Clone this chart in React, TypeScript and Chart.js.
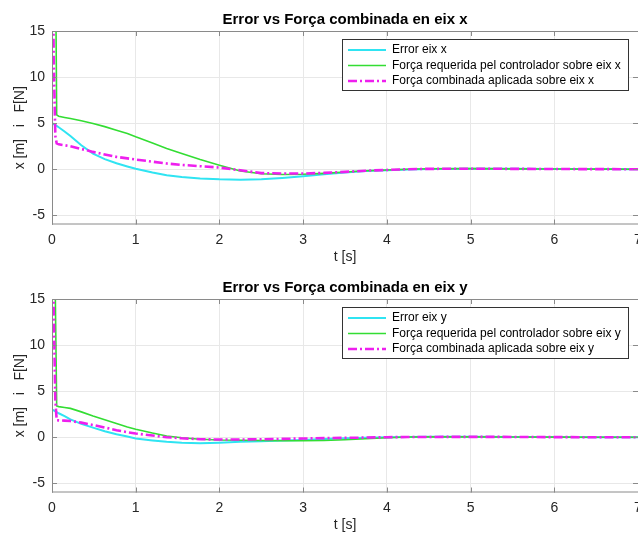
import React, { useEffect, useRef } from 'react';
import { Chart, registerables } from 'chart.js';

Chart.register(...registerables);

// ---------- data ----------
const timeS = [0, 0.02, 0.04, 0.056, 0.08, 0.15, 0.22, 0.35, 0.49, 0.63, 0.77, 0.9, 1.0, 1.2, 1.37, 1.55, 1.77, 2.0, 2.25, 2.5, 2.75, 3.0, 3.25, 3.5, 3.75, 4.0, 4.25, 4.5, 5.0, 5.5, 6.0, 6.5, 7.0];

const errorX = [5.0, 4.9, 4.8, 4.7, 4.55, 4.1, 3.6, 2.6, 1.7, 1.1, 0.65, 0.3, 0.05, -0.35, -0.65, -0.85, -1.0, -1.1, -1.13, -1.1, -0.95, -0.76, -0.56, -0.36, -0.2, -0.1, -0.02, 0.03, 0.05, 0.04, 0.02, 0.01, 0];
const forceReqX = [60, 45, 25, 5.9, 5.75, 5.62, 5.5, 5.25, 4.96, 4.62, 4.24, 3.88, 3.52, 2.85, 2.25, 1.7, 1.05, 0.43, -0.2, -0.5, -0.58, -0.55, -0.45, -0.3, -0.17, -0.08, 0.0, 0.05, 0.06, 0.04, 0.02, 0.01, 0];
const forceCombX = [40, 12, 3.6, 2.8, 2.7, 2.6, 2.5, 2.2, 1.88, 1.6, 1.34, 1.18, 1.05, 0.82, 0.62, 0.47, 0.33, 0.18, -0.12, -0.42, -0.47, -0.47, -0.4, -0.29, -0.16, -0.08, 0.0, 0.04, 0.05, 0.04, 0.02, 0.01, 0];

const errorY = [3.0, 2.9, 2.8, 2.72, 2.6, 2.3, 1.94, 1.45, 1.04, 0.65, 0.32, 0.08, -0.14, -0.35, -0.5, -0.6, -0.65, -0.6, -0.5, -0.43, -0.36, -0.29, -0.2, -0.12, -0.05, 0, 0.03, 0.05, 0.05, 0.03, 0.01, 0, 0];
const forceReqY = [60, 40, 15, 3.4, 3.32, 3.23, 3.13, 2.75, 2.3, 1.9, 1.48, 1.1, 0.86, 0.45, 0.14, -0.05, -0.22, -0.3, -0.33, -0.36, -0.38, -0.38, -0.35, -0.28, -0.17, -0.05, 0.02, 0.04, 0.04, 0.03, 0.01, 0, 0];
const forceCombY = [40, 14, 4, 1.85, 1.83, 1.8, 1.76, 1.58, 1.33, 1.05, 0.76, 0.55, 0.4, 0.18, 0.0, -0.12, -0.22, -0.25, -0.25, -0.22, -0.18, -0.14, -0.1, -0.07, -0.04, 0, 0.02, 0.03, 0.04, 0.03, 0.01, 0, 0];

const xTicks = [0, 1, 2, 3, 4, 5, 6, 7];
const yTicks = [-5, 0, 5, 10, 15];

const titleX = 'Error vs Força combinada en eix x';
const titleY = 'Error vs Força combinada en eix y';
const labelsX = ['Error eix x', 'Força requerida pel controlador sobre eix x', 'Força combinada aplicada sobre eix x'];
const labelsY = ['Error eix y', 'Força requerida pel controlador sobre eix y', 'Força combinada aplicada sobre eix y'];
const xAxisTitle = 't [s]';
const yAxisTitle = 'x [m]   i   F[N]';

// ---------- styles ----------
const FONT = '"Liberation Sans", Arial, Helvetica, sans-serif';
const COLORS = ['#2fe4f2', '#33dd33', '#ee1fee'];
const WIDTHS = [2, 1.6, 2.6];
const DASHES: number[][] = [[], [], [9, 3, 2, 3]];
const AXIS_COLOR = '#8a8a8a';
const TICK_COLOR = '#262626';
const GRID_COLOR = '#e8e8e8';

const framePlugin = {
  id: 'matlabFrame',
  afterDatasetsDraw(chart: any) {
    const { ctx, chartArea, scales } = chart;
    const { left, right, top, bottom } = chartArea;
    ctx.save();
    ctx.strokeStyle = AXIS_COLOR;
    ctx.lineWidth = 1;
    ctx.beginPath();
    ctx.moveTo(left, top + 0.5);
    ctx.lineTo(right, top + 0.5);
    ctx.moveTo(right + 0.5, top);
    ctx.lineTo(right + 0.5, bottom);
    ctx.moveTo(left + 0.5, top);
    ctx.lineTo(left + 0.5, bottom);
    ctx.moveTo(left, bottom - 0.5);
    ctx.lineTo(right, bottom - 0.5);
    const tl = 5;
    for (const v of xTicks) {
      const x = Math.round(scales.x.getPixelForValue(v)) + 0.5;
      ctx.moveTo(x, top);
      ctx.lineTo(x, top + tl);
      ctx.moveTo(x, bottom);
      ctx.lineTo(x, bottom - tl);
    }
    for (const v of yTicks) {
      const y = Math.round(scales.y.getPixelForValue(v)) + 0.5;
      ctx.moveTo(left, y);
      ctx.lineTo(left + tl, y);
      ctx.moveTo(right, y);
      ctx.lineTo(right - tl, y);
    }
    ctx.stroke();
    ctx.restore();
  },
};

const legendPlugin = {
  id: 'boxLegend',
  afterDraw(chart: any) {
    const { ctx, chartArea } = chart;
    const ds = chart.data.datasets;
    ctx.save();
    ctx.font = `12px ${FONT}`;
    const maxW = Math.max(...ds.map((d: any) => ctx.measureText(d.label).width));
    const w = Math.round(50 + maxW + 7);
    const h = 51;
    const right = Math.round(chartArea.right - 10);
    const left = right - w;
    const top = Math.round(chartArea.top + 8);
    ctx.fillStyle = '#ffffff';
    ctx.fillRect(left, top, w, h);
    ctx.strokeStyle = '#333333';
    ctx.lineWidth = 1;
    ctx.strokeRect(left + 0.5, top + 0.5, w, h);
    ds.forEach((d: any, i: number) => {
      const y = top + 11 + i * 15.5;
      ctx.beginPath();
      ctx.strokeStyle = d.borderColor;
      ctx.lineWidth = d.borderWidth;
      ctx.setLineDash(d.borderDash || []);
      ctx.moveTo(left + 6, y);
      ctx.lineTo(left + 44, y);
      ctx.stroke();
      ctx.setLineDash([]);
      ctx.fillStyle = '#000000';
      ctx.textBaseline = 'middle';
      ctx.textAlign = 'left';
      ctx.fillText(d.label, left + 50, y);
    });
    ctx.restore();
  },
};

function SubPlot(props: { title: string; labels: string[]; series: number[][]; top: number }) {
  const ref = useRef<HTMLCanvasElement | null>(null);
  useEffect(() => {
    if (!ref.current) return;
    const datasets = props.series.map((vals, i) => ({
      label: props.labels[i],
      data: timeS.map((t, k) => ({ x: t, y: vals[k] })),
      borderColor: COLORS[i],
      backgroundColor: COLORS[i],
      borderWidth: WIDTHS[i],
      borderDash: DASHES[i],
      pointRadius: 0,
      tension: 0,
      fill: false,
      order: 2 - i,
    }));
    const chart = new Chart(ref.current, {
      type: 'line',
      data: { datasets },
      plugins: [framePlugin, legendPlugin],
      options: {
        animation: false,
        responsive: false,
        maintainAspectRatio: false,
        layout: { padding: { left: 0, right: 22, top: 0, bottom: 0 } },
        font: { family: FONT },
        plugins: {
          legend: { display: false },
          tooltip: { enabled: false },
          title: {
            display: true,
            text: props.title,
            fullSize: false,
            color: '#000000',
            font: { family: FONT, size: 15, weight: 'bold' },
            padding: { top: 11, bottom: 2 },
          },
        },
        scales: {
          x: {
            type: 'linear',
            min: 0,
            max: 7,
            afterBuildTicks: (s: any) => {
              s.ticks = xTicks.map((v) => ({ value: v }));
            },
            afterFit: (s: any) => {
              s.height = 41.5;
            },
            grid: { color: GRID_COLOR, drawTicks: false },
            border: { display: false },
            ticks: {
              color: TICK_COLOR,
              padding: 7,
              maxRotation: 0,
              autoSkip: false,
              font: { family: FONT, size: 14 },
            },
            title: {
              display: true,
              text: xAxisTitle,
              color: TICK_COLOR,
              font: { family: FONT, size: 14 },
              padding: { top: 0, bottom: 0 },
            },
          },
          y: {
            type: 'linear',
            min: -6,
            max: 15,
            afterBuildTicks: (s: any) => {
              s.ticks = yTicks.map((v) => ({ value: v }));
            },
            afterFit: (s: any) => {
              s.width = 52;
            },
            grid: { color: GRID_COLOR, drawTicks: false },
            border: { display: false },
            ticks: {
              color: TICK_COLOR,
              padding: 7,
              autoSkip: false,
              font: { family: FONT, size: 14 },
            },
            title: {
              display: true,
              text: yAxisTitle,
              color: TICK_COLOR,
              font: { family: FONT, size: 14 },
              padding: { top: 11.6, bottom: 0 },
            },
          },
        },
      } as any,
    });
    return () => chart.destroy();
  }, []);
  return (
    <canvas
      ref={ref}
      width={660}
      height={266}
      style={{ position: 'absolute', left: 0, top: props.top, width: 660, height: 266, display: 'block' }}
    />
  );
}

export default function App() {
  return (
    <div
      style={{
        position: 'fixed',
        left: 0,
        top: 0,
        width: 638,
        height: 534,
        overflow: 'hidden',
        background: '#ffffff',
      }}
    >
      <SubPlot title={titleX} labels={labelsX} series={[errorX, forceReqX, forceCombX]} top={0} />
      <SubPlot title={titleY} labels={labelsY} series={[errorY, forceReqY, forceCombY]} top={268} />
    </div>
  );
}
